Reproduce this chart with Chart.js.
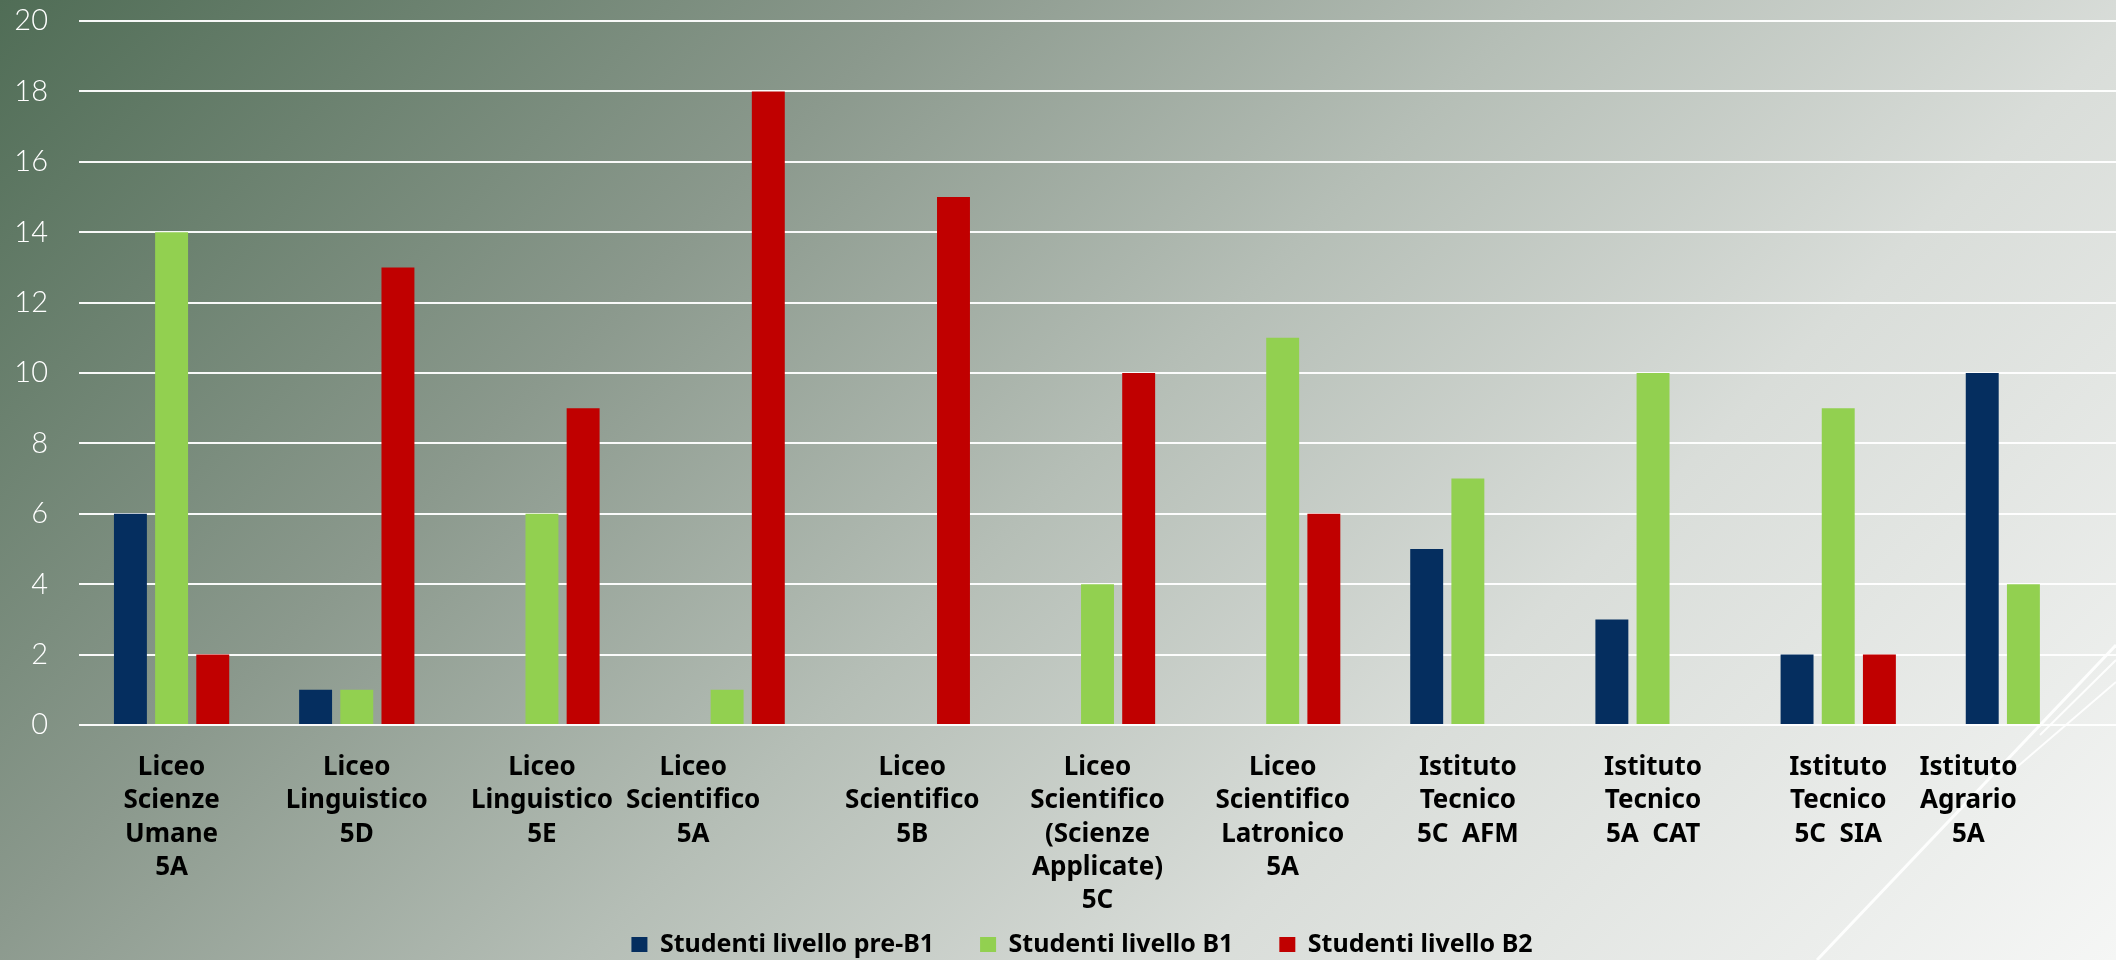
<!DOCTYPE html>
<html>
<head>
<meta charset="utf-8">
<script src="https://cdn.jsdelivr.net/npm/chart.js@4.4.1/dist/chart.umd.min.js"></script>
<style>
  html, body { margin: 0; padding: 0; overflow: hidden; }
  #wrap { width: 2116px; height: 960px; }
</style>
</head>
<body>
<div id="wrap"><canvas id="chart"></canvas></div>
<script>
// classi (etichette su più righe)
const classi = [
  ["Liceo", "Scienze", "Umane", "5A"],
  ["Liceo", "Linguistico", "5D"],
  ["Liceo", "Linguistico", "5E"],
  ["Liceo", "Scientifico", "5A"],
  ["Liceo", "Scientifico", "5B"],
  ["Liceo", "Scientifico", "(Scienze", "Applicate)", "5C"],
  ["Liceo", "Scientifico", "Latronico", "5A"],
  ["Istituto", "Tecnico", "5C  AFM"],
  ["Istituto", "Tecnico", "5A  CAT"],
  ["Istituto", "Tecnico", "5C  SIA"],
  ["Istituto", "Agrario", "5A"]
];
const preB1 = [6, 1, 0, 0, 0, 0, 0, 5, 3, 2, 10];
const livB1 = [14, 1, 6, 1, 0, 4, 11, 7, 10, 9, 4];
const livB2 = [2, 13, 9, 18, 15, 10, 6, 0, 0, 2, 0];
const yTicks = [0, 2, 4, 6, 8, 10, 12, 14, 16, 18, 20];

// sfondo della slide + spostamento di due etichette come nell'originale
const sfondo = {
  id: "sfondo",
  beforeDraw(chart) {
    const ctx = chart.ctx;
    const w = chart.width, h = chart.height;
    ctx.save();
    const g = ctx.createLinearGradient(0, 0, 1538, 1538);
    g.addColorStop(0, "#506d56");
    g.addColorStop(0.3, "#8b998d");
    g.addColorStop(0.5, "#b5beb6");
    g.addColorStop(0.7, "#d9ddd9");
    g.addColorStop(1, "#f5f6f5");
    ctx.fillStyle = g;
    ctx.fillRect(0, 0, w, h);
    ctx.strokeStyle = "rgba(255,255,255,0.9)";
    ctx.lineWidth = 3;
    ctx.beginPath(); ctx.moveTo(2116, 645); ctx.lineTo(1817, 960); ctx.stroke();
    ctx.lineWidth = 2;
    ctx.beginPath(); ctx.moveTo(2116, 660); ctx.lineTo(2040, 735); ctx.stroke();
    ctx.beginPath(); ctx.moveTo(2116, 682); ctx.lineTo(2010, 773); ctx.stroke();
    ctx.restore();

    const shifts = { 3: -34, 10: -55 };
    chart.scales.x.getLabelItems().forEach((it, i) => {
      if (shifts[i] && !it._spostato) {
        it.options.translation[0] += shifts[i];
        it._spostato = true;
      }
    });
  }
};

// legenda bassa: altezza ridotta nel layout, poi riportata su
const legendaBassa = {
  id: "legendaBassa",
  afterInit(chart) {
    const leg = chart.legend;
    const fit = leg.fit;
    leg.fit = function () { fit.call(this); this.height = 38; };
  },
  afterLayout(chart) {
    const leg = chart.legend;
    leg.top = 886;
    leg.bottom = 960;
    leg.height = 74;
    leg.left = 24;
    leg.right = 2116 + 24;
  }
};

const labelFont = { family: "'Noto Sans', sans-serif", size: 26, weight: "bold", lineHeight: 1.28 };

new Chart(document.getElementById("chart"), {
  type: "bar",
  data: {
    labels: classi,
    datasets: [
      { label: "Studenti livello pre-B1", data: preB1, backgroundColor: "#052e5f" },
      { label: "Studenti livello B1", data: livB1, backgroundColor: "#92d050" },
      { label: "Studenti livello B2", data: livB2, backgroundColor: "#c00000" }
    ]
  },
  options: {
    responsive: true,
    maintainAspectRatio: false,
    animation: false,
    layout: { padding: 0 },
    datasets: { bar: { categoryPercentage: 0.667, barPercentage: 0.8 } },
    plugins: {
      legend: {
        position: "bottom",
        labels: {
          color: "#000",
          font: { family: "'Noto Sans', sans-serif", size: 25, weight: "bold" },
          boxWidth: 16,
          boxHeight: 15,
          padding: 46
        }
      },
      tooltip: { enabled: false }
    },
    scales: {
      x: {
        grid: { display: false },
        border: { display: false },
        ticks: {
          color: "#000",
          font: labelFont,
          autoSkip: false,
          maxRotation: 0,
          minRotation: 0,
          padding: 18
        },
        afterFit(scale) { scale.height = 197; }
      },
      y: {
        min: 0,
        max: 20,
        afterBuildTicks(scale) { scale.ticks = yTicks.map(v => ({ value: v })); },
        grid: { color: "rgba(255,255,255,0.95)", lineWidth: 2, drawTicks: false },
        border: { display: false },
        ticks: {
          color: "#fff",
          font: { family: "Lato, sans-serif", size: 29, weight: "300" },
          padding: 31
        },
        afterFit(scale) {
          scale.width = 79;
          scale.paddingTop = 21;
          scale.paddingBottom = 0;
        }
      }
    }
  },
  plugins: [sfondo, legendaBassa]
});
</script>
</body>
</html>
